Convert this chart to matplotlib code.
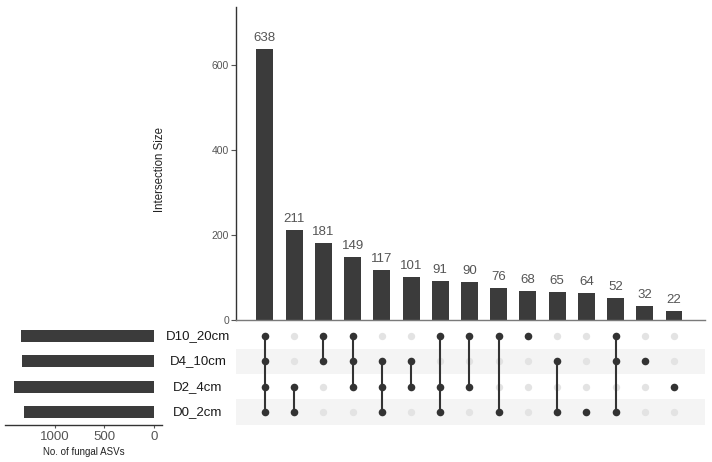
import matplotlib
matplotlib.use("Agg")
import matplotlib.pyplot as plt
import matplotlib.transforms as mtransforms
import numpy as np

plt.rcParams['font.family'] = ['Liberation Sans', 'DejaVu Sans']

# ---- data ----
sets = ["D0_2cm", "D2_4cm", "D4_10cm", "D10_20cm"]          # bottom -> top rows
set_sizes = [1314, 1419, 1335, 1345]                         # No. of fungal ASVs
inter_sizes = [638, 211, 181, 149, 117, 101, 91, 90, 76, 68, 65, 64, 52, 32, 22]
inter_members = [
    ["D10_20cm", "D4_10cm", "D2_4cm", "D0_2cm"],
    ["D2_4cm", "D0_2cm"],
    ["D10_20cm", "D4_10cm"],
    ["D10_20cm", "D4_10cm", "D2_4cm"],
    ["D4_10cm", "D2_4cm", "D0_2cm"],
    ["D4_10cm", "D2_4cm"],
    ["D10_20cm", "D2_4cm", "D0_2cm"],
    ["D10_20cm", "D2_4cm"],
    ["D10_20cm", "D0_2cm"],
    ["D10_20cm"],
    ["D4_10cm", "D0_2cm"],
    ["D0_2cm"],
    ["D10_20cm", "D4_10cm", "D0_2cm"],
    ["D4_10cm"],
    ["D2_4cm"],
]

W, H = 712, 462
fig = plt.figure(figsize=(W / 100, H / 100), dpi=100)

def fx(px):
    return px / W

def fy(py):
    return 1 - py / H

bar_col = "#3b3b3b"
dot_col = "#333333"
off_col = "#e3e3e3"
stripe_col = "#f4f4f4"
n = len(inter_sizes)
xs = np.arange(n)
xlim = (-0.99, 15.06)

# ---- intersection bars ----
ax_top = fig.add_axes([fx(236), fy(320), fx(705) - fx(236), fy(7) - fy(320)])
ax_top.bar(xs, inter_sizes, width=0.58, color=bar_col)
for x, v in zip(xs, inter_sizes):
    ax_top.text(x, v + 12, str(v), ha="center", va="bottom", fontsize=9.5, color="#555555")
ax_top.set_xlim(*xlim)
ax_top.set_ylim(0, 736)
ax_top.set_yticks([0, 200, 400, 600])
ax_top.set_xticks([])
ax_top.tick_params(axis="y", labelsize=7.5, labelcolor="#555555", color="#555555", length=3.5, width=0.8, pad=1.5)
for s in ["top", "right"]:
    ax_top.spines[s].set_visible(False)
ax_top.spines["left"].set_color("#333333")
ax_top.spines["left"].set_linewidth(1.0)
ax_top.spines["bottom"].set_color("#7a7a7a")
ax_top.spines["bottom"].set_linewidth(1.0)
fig.text(fx(160), fy(170), "Intersection Size", rotation=90, ha="center", va="center",
         fontsize=8.3, color="#222222")

# ---- matrix ----
ax_m = fig.add_axes([fx(236), fy(424.7), fx(705) - fx(236), fy(323.4) - fy(424.7)])
ax_m.set_xlim(*xlim)
ax_m.set_ylim(-0.5, len(sets) - 0.5)
for i, s in enumerate(sets):
    if i % 2 == 0:
        ax_m.axhspan(i - 0.5, i + 0.5, color=stripe_col, lw=0, zorder=0)
for x, mem in zip(xs, inter_members):
    rows = [sets.index(m) for m in mem]
    off = [i for i in range(len(sets)) if i not in rows]
    ax_m.scatter([x] * len(off), off, s=28, color=off_col, lw=0, zorder=2)
    if len(rows) > 1:
        ax_m.plot([x, x], [min(rows), max(rows)], color=dot_col, lw=1.5, zorder=3)
    ax_m.scatter([x] * len(rows), rows, s=30, color=dot_col, lw=0, zorder=4)
ax_m.axis("off")

trans = mtransforms.blended_transform_factory(fig.transFigure, ax_m.transData)
for i, s in enumerate(sets):
    fig.text(fx(198), i, s, transform=trans, ha="center", va="center", fontsize=9.5, color="#1a1a1a")

# ---- set sizes ----
ax_s = fig.add_axes([fx(5), fy(424.7), fx(162) - fx(5), fy(323.4) - fy(424.7)])
ax_s.barh(np.arange(len(sets)), set_sizes, height=0.48, color=bar_col)
ax_s.set_xlim(1505, -81)
ax_s.set_ylim(-0.5, len(sets) - 0.5)
ax_s.set_yticks([])
ax_s.set_xticks([1000, 500, 0])
ax_s.tick_params(axis="x", labelsize=9.5, labelcolor="#555555", color="#555555", length=2.5, width=0.8, pad=2)
for s in ["top", "right", "left"]:
    ax_s.spines[s].set_visible(False)
ax_s.spines["bottom"].set_color("#333333")
ax_s.spines["bottom"].set_linewidth(1.0)
fig.text(fx(84), fy(452), "No. of fungal ASVs", ha="center", va="center", fontsize=7, color="#222222")

fig.savefig("out.png", dpi=100)
